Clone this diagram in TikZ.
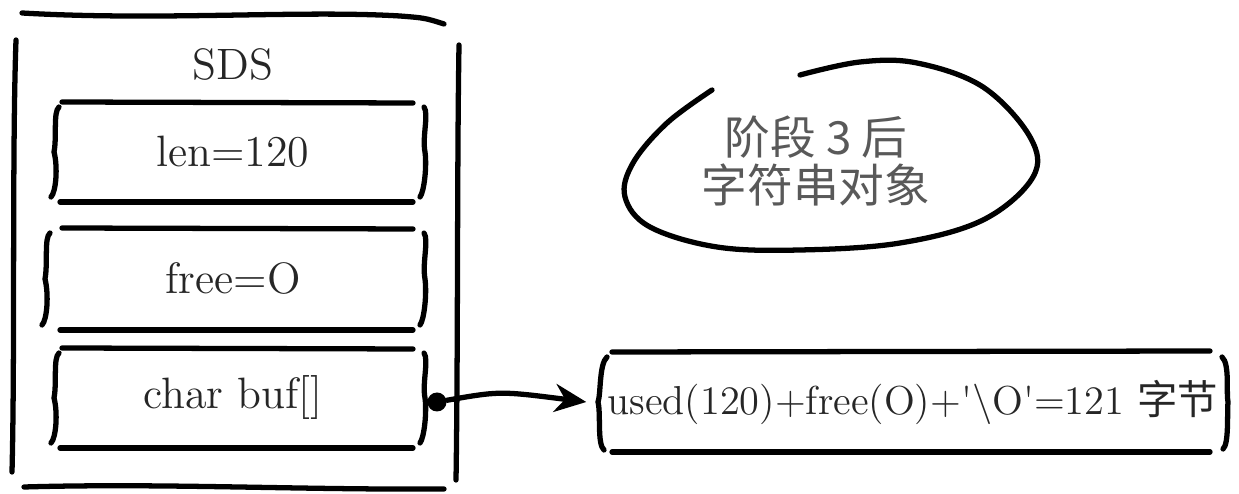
\documentclass[tikz,border=0pt]{standalone}
\usepackage{fontspec}
\newfontfamily\cjk{Noto Sans CJK SC}
\usetikzlibrary{arrows.meta}

\begin{document}
\begin{tikzpicture}[
  sketch/.style={line width=1.5pt, line cap=round},
  field/.style={font=\fontsize{12.5}{15}\selectfont, inner sep=0pt, text=black!85}
]

\useasboundingbox (0,0) rectangle (12.39,4.94);

\draw[sketch] (0.22,4.81) .. controls (1.6,4.73) and (3.0,4.84) .. (4.0,4.78) .. controls (4.25,4.76) .. (4.44,4.70);
\draw[sketch] (0.16,4.54) .. controls (0.12,3.4) and (0.15,1.4) .. (0.12,0.22);
\draw[sketch] (4.59,4.49) .. controls (4.57,3.3) and (4.58,1.4) .. (4.56,0.14);
\draw[sketch] (0.24,0.07) .. controls (1.6,0.11) and (3.0,0.04) .. (4.44,0.05);

\node[field] (sds) at (2.33,4.29) {SDS};

\foreach \ytop/\ybot/\xl/\nm/\txt in {
3.92/2.92/0.55/len/{len=120},
2.66/1.64/0.46/free/{free=O},
1.46/0.46/0.55/buf/{char buf[]}
}{
    \pgfmathsetmacro\ymid{(\ytop+\ybot)/2}
    \draw[sketch] (0.62,\ytop) -- (4.13,\ytop-0.01);
    \draw[sketch] (0.60,\ybot) -- (4.13,\ybot);
    \draw[sketch] (\xl+0.04,\ytop-0.05) .. controls (\xl-0.02,\ytop-0.1) and (\xl+0.02,\ytop-0.35) .. (\xl-0.01,\ymid) .. controls (\xl+0.03,\ybot+0.35) and (\xl+0.01,\ybot+0.1) .. (\xl-0.04,\ybot+0.05);
    \draw[sketch] (4.24,\ytop-0.05) .. controls (4.29,\ytop-0.12) and (4.22,\ytop-0.35) .. (4.25,\ymid) .. controls (4.27,\ybot+0.35) and (4.24,\ybot+0.1) .. (4.20,\ybot+0.05);
    \node[field] (\nm) at (2.33,\ymid) {\txt};
}

\node[circle, fill, inner sep=0pt, minimum size=0.19cm] (dot) at (4.37,0.92) {};

\node[field, font=\fontsize{11.5}{14}\selectfont, minimum width=6.26cm, minimum height=1cm] (bytes) at (9.13,0.92)
    {used(120)+free(O)+\textquotesingle\textbackslash O\textquotesingle=121 {\cjk 字节}};

\draw[sketch] (6.12,1.42) -- (12.10,1.43);
\draw[sketch] (6.12,0.42) -- (12.10,0.42);
\draw[sketch] (6.07,1.37) .. controls (5.99,1.3) and (6.01,1.0) .. (5.98,0.92) .. controls (6.01,0.8) and (5.97,0.5) .. (6.04,0.44);
\draw[sketch] (12.22,1.37) .. controls (12.30,1.3) and (12.26,1.0) .. (12.28,0.92) .. controls (12.27,0.8) and (12.29,0.5) .. (12.23,0.45);

\draw[sketch, -{Stealth[length=9pt, width=8pt]}] (dot) .. controls (5.0,1.03) .. ([xshift=-1.3mm]bytes.west);

\draw[sketch] plot[smooth, tension=0.6] coordinates {
(7.12,4.04) (6.67,3.71) (6.33,3.31) (6.25,2.97) (6.50,2.67) (7.17,2.47) (8.00,2.44)
(9.00,2.51) (9.83,2.74) (10.33,3.17) (10.30,3.57) (9.83,4.07) (9.17,4.31) (8.60,4.32) (8.00,4.19)};

\node[font=\fontsize{13}{13.5}\selectfont\cjk, align=center, text=black!65] (stage) at (8.16,3.33) {阶段 3 后\\字符串对象};

\end{tikzpicture}
\end{document}
